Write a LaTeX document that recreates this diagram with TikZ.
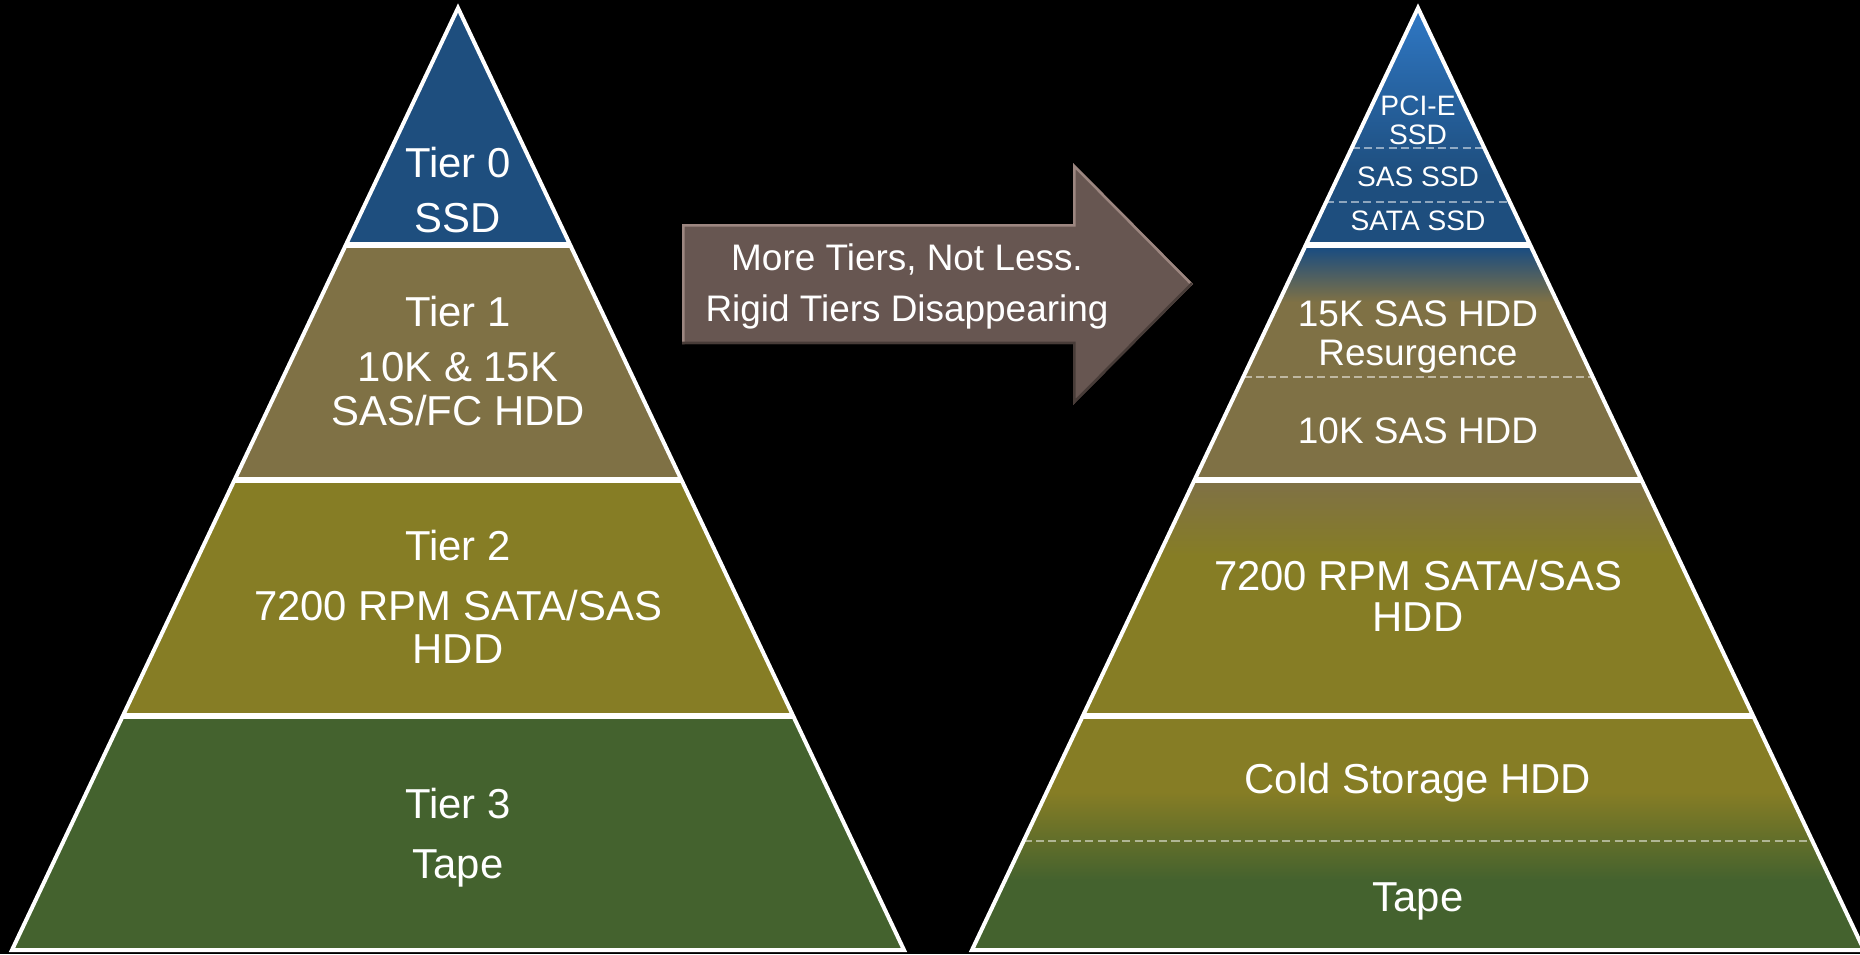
\documentclass[tikz,border=0pt]{standalone}
\usepackage{fontspec}
\setmainfont{Liberation Sans}
\usetikzlibrary{calc}

\definecolor{tzero}{RGB}{30,78,126}
\definecolor{tzerotop}{RGB}{48,122,200}
\definecolor{tone}{RGB}{127,113,69}
\definecolor{ttwo}{RGB}{134,125,37}
\definecolor{tthree}{RGB}{68,98,46}
\definecolor{arrowfill}{RGB}{103,86,81}
\definecolor{arrowlight}{RGB}{156,134,128}
\definecolor{arrowdark}{RGB}{72,60,56}

\begin{document}
\begin{tikzpicture}[x=0.01cm, y=-0.01cm,
  label/.style={text=white, anchor=base, inner sep=0pt},
  big/.style={label, font=\fontsize{11.9pt}{14pt}\selectfont},
  mid/.style={label, font=\fontsize{10.5pt}{12.5pt}\selectfont},
  small/.style={label, font=\fontsize{8pt}{10pt}\selectfont},
  outline/.style={draw=white, line width=0.04cm, line join=miter},
  divider/.style={draw=white, line width=0.06cm},
  subdivider/.style={draw=white, draw opacity=0.5, line width=0.02cm,
    dash pattern=on 2.3pt off 1.2pt}]

% page and background
\fill[black] (0,0) rectangle (1860,954);
\useasboundingbox (0,0) rectangle (1860,954);
\clip (0,0) rectangle (1860,954);

% ---------- left pyramid ----------
\coordinate (la) at (458,8);
\coordinate (lbl) at (12,950);
\coordinate (lbr) at (904,950);
\foreach \n/\t in {1/0.2516, 2/0.5011, 3/0.7521} {
  \coordinate (ll\n) at ($(la)!\t!(lbl)$);
  \coordinate (lr\n) at ($(la)!\t!(lbr)$);
}
\begin{scope}
  \clip (la) -- (lbr) -- (lbl) -- cycle;
  \fill[tzero]  (0,0)     rectangle (930,245);
  \fill[tone]   (0,245)   rectangle (930,480);
  \fill[ttwo]   (0,480)   rectangle (930,716.5);
  \fill[tthree] (0,716.5) rectangle (930,954);
\end{scope}
\draw[divider] (ll1) -- (lr1);
\draw[divider] (ll2) -- (lr2);
\draw[divider] (ll3) -- (lr3);
\draw[outline] (la) -- (lbr) -- (lbl) -- cycle;

\node[big] (t0a) at (458,177) {Tier 0};
\node[big] (t0b) at (458,232) {SSD};
\node[big] (t1a) at (458,326.7) {Tier 1};
\node[big] (t1b) at (458,381.7) {10K \& 15K};
\node[big] (t1c) at (458,425) {SAS/FC HDD};
\node[big] (t2a) at (458,560) {Tier 2};
\node[big] (t2b) at (458,620.7) {7200 RPM SATA/SAS};
\node[big] (t2c) at (458,663) {HDD};
\node[big] (t3a) at (458,818) {Tier 3};
\node[big] (t3b) at (458,878) {Tape};

% ---------- arrow ----------
\path[fill=arrowfill] (682,224) -- (1073,224) -- (1073,163) -- (1193,284)
  -- (1073,405) -- (1073,344) -- (682,344) -- cycle;
\begin{scope}
  \clip (682,224) -- (1073,224) -- (1073,163) -- (1193,284)
    -- (1073,405) -- (1073,344) -- (682,344) -- cycle;
  \draw[arrowlight, line width=0.05cm, line join=miter]
    (682,344) -- (682,224) -- (1073,224) -- (1073,163) -- (1193,284);
  \draw[arrowdark, line width=0.05cm, line join=miter]
    (1193,284) -- (1073,405) -- (1073,344) -- (682,344);
\end{scope}
\node[mid] (msg1) at (907,270) {More Tiers, Not Less.};
\node[mid] (msg2) at (907,321.7) {Rigid Tiers Disappearing};

% ---------- right pyramid ----------
\coordinate (ra) at (1418,8);
\coordinate (rbl) at (972,950);
\coordinate (rbr) at (1864,950);
\foreach \n/\t in {1/0.2516, 2/0.5011, 3/0.7521} {
  \coordinate (rl\n) at ($(ra)!\t!(rbl)$);
  \coordinate (rr\n) at ($(ra)!\t!(rbr)$);
}
% sub-tier dividers
\foreach \n/\t in {a/0.1486, b/0.2056, c/0.3914, d/0.8840} {
  \coordinate (sl\n) at ($(ra)!\t!(rbl)$);
  \coordinate (sr\n) at ($(ra)!\t!(rbr)$);
}
\begin{scope}
  \clip (ra) -- (rbr) -- (rbl) -- cycle;
  % SSD band
  \shade[top color=tzerotop, bottom color=tzero] (940,0) rectangle (1880,175);
  \fill[tzero] (940,175) rectangle (1880,250);
  % performance HDD band
  \shade[top color=tzero, bottom color=tone] (940,250) rectangle (1880,302);
  \fill[tone] (940,302) rectangle (1880,482);
  % capacity HDD band
  \shade[top color=tone, bottom color=ttwo] (940,482) rectangle (1880,556);
  \fill[ttwo] (940,556) rectangle (1880,792);
  % archive band
  \shade[top color=ttwo, bottom color=tthree] (940,792) rectangle (1880,880);
  \fill[tthree] (940,880) rectangle (1880,954);
\end{scope}
\foreach \n in {a,b,c,d} { \draw[subdivider] (sl\n) -- (sr\n); }
\draw[divider] (rl1) -- (rr1);
\draw[divider] (rl2) -- (rr2);
\draw[divider] (rl3) -- (rr3);
\draw[outline] (ra) -- (rbr) -- (rbl) -- cycle;

\node[small] (pcia) at (1418,115) {PCI-E};
\node[small] (pcib) at (1418,144) {SSD};
\node[small] (sas)  at (1418,186) {SAS SSD};
\node[small] (sata) at (1418,230) {SATA SSD};
\node[mid] (k15a) at (1418,326.7) {15K SAS HDD};
\node[mid] (k15b) at (1418,365) {Resurgence};
\node[mid] (k10)  at (1418,443) {10K SAS HDD};
\node[big] (rpma) at (1418,590) {7200 RPM SATA/SAS};
\node[big] (rpmb) at (1418,631.7) {HDD};
\node[big] (cold) at (1418,793) {Cold Storage HDD};
\node[big] (tape) at (1418,911.7) {Tape};
\end{tikzpicture}
\end{document}
